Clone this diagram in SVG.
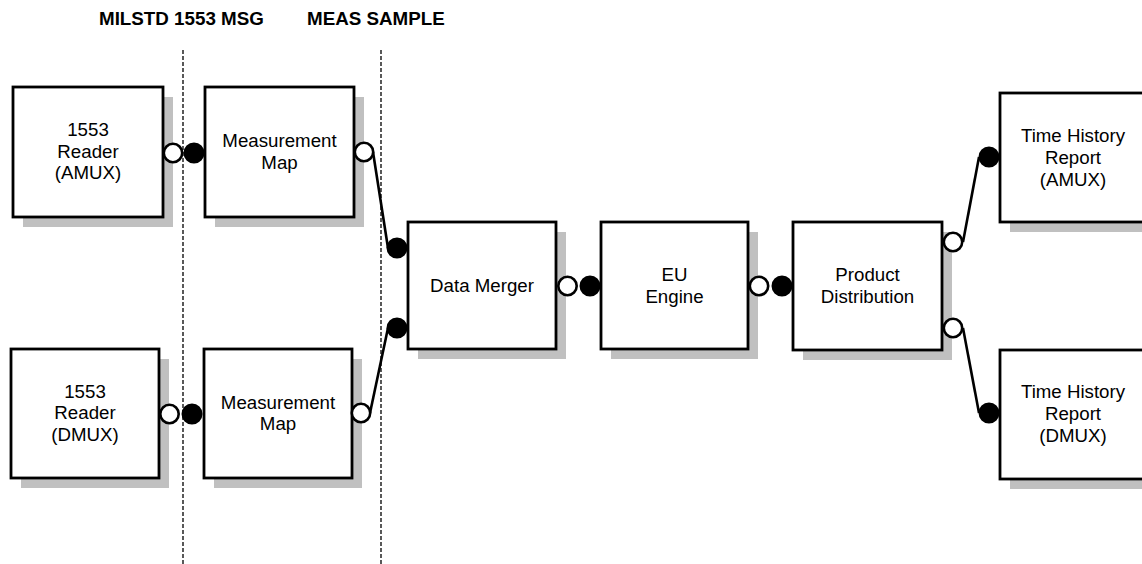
<svg xmlns="http://www.w3.org/2000/svg" width="1142" height="564" viewBox="0 0 1142 564">
  <style>
    .lane { stroke: #000; stroke-width: 1.3; stroke-dasharray: 4 2; fill: none; }
    .head { font-family: "Liberation Sans", Arial, sans-serif; font-size: 18.8px; font-weight: bold; fill: #000; }
    .shadow { fill: #c0c0c0; }
    .box { fill: #fff; stroke: #000; stroke-width: 2.8; }
    .label { font-family: "Liberation Sans", Arial, sans-serif; font-size: 18.7px; fill: #000; text-anchor: middle; }
    .wire { stroke: #000; stroke-width: 2.6; fill: none; }
    .out { fill: #fff; stroke: #000; stroke-width: 2.6; }
    .in { fill: #000; stroke: #000; stroke-width: 2.6; }
  </style>
  <rect width="1142" height="564" fill="#fff"/>

  <!-- swimlane headings and separators -->
  <g id="lanes">
    <text class="head" x="99" y="25">MILSTD 1553 MSG</text>
    <text class="head" x="307" y="25">MEAS SAMPLE</text>
    <line class="lane" x1="183" y1="50" x2="183" y2="564"/>
    <line class="lane" x1="381" y1="50" x2="381" y2="564"/>
  </g>

  <!-- links between ports -->
  <g id="connectors">
    <line class="wire" x1="373" y1="152" x2="388" y2="248"/>
    <line class="wire" x1="370" y1="413" x2="388" y2="328"/>
    <line class="wire" x1="963" y1="242" x2="979" y2="157"/>
    <line class="wire" x1="963" y1="328" x2="979" y2="413"/>
  </g>

  <g id="reader-amux">
    <rect class="shadow" x="23" y="97" width="150" height="130"/>
    <rect class="box" x="13" y="87" width="150" height="130"/>
    <text class="label" x="88" y="136">1553</text>
    <text class="label" x="88" y="157.5">Reader</text>
    <text class="label" x="88" y="179">(AMUX)</text>
    <circle class="out" cx="173" cy="153" r="9.2"/>
  </g>

  <g id="meas-map-amux">
    <rect class="shadow" x="215" y="97" width="149" height="130"/>
    <rect class="box" x="205" y="87" width="149" height="130"/>
    <text class="label" x="279.5" y="147">Measurement</text>
    <text class="label" x="279.5" y="168.5">Map</text>
    <circle class="in" cx="194" cy="153" r="9.2"/>
    <circle class="out" cx="364" cy="152" r="9.2"/>
  </g>

  <g id="reader-dmux">
    <rect class="shadow" x="21" y="359" width="148" height="129"/>
    <rect class="box" x="11" y="349" width="148" height="129"/>
    <text class="label" x="85" y="397.5">1553</text>
    <text class="label" x="85" y="419">Reader</text>
    <text class="label" x="85" y="440.5">(DMUX)</text>
    <circle class="out" cx="169.5" cy="414" r="9.2"/>
  </g>

  <g id="meas-map-dmux">
    <rect class="shadow" x="214" y="359" width="148" height="129"/>
    <rect class="box" x="204" y="349" width="148" height="129"/>
    <text class="label" x="278" y="408.5">Measurement</text>
    <text class="label" x="278" y="430">Map</text>
    <circle class="in" cx="192" cy="414" r="9.2"/>
    <circle class="out" cx="361" cy="413" r="9.2"/>
  </g>

  <g id="data-merger">
    <rect class="shadow" x="418" y="232" width="148" height="127"/>
    <rect class="box" x="408" y="222" width="148" height="127"/>
    <text class="label" x="482" y="292">Data Merger</text>
    <circle class="in" cx="397" cy="248" r="9.2"/>
    <circle class="in" cx="397" cy="328" r="9.2"/>
    <circle class="out" cx="567.5" cy="286" r="9.2"/>
  </g>

  <g id="eu-engine">
    <rect class="shadow" x="611" y="232" width="147" height="127"/>
    <rect class="box" x="601" y="222" width="147" height="127"/>
    <text class="label" x="674.5" y="281">EU</text>
    <text class="label" x="674.5" y="302.5">Engine</text>
    <circle class="in" cx="590" cy="286" r="9.2"/>
    <circle class="out" cx="759" cy="286" r="9.2"/>
  </g>

  <g id="product-distribution">
    <rect class="shadow" x="803" y="232" width="149" height="128"/>
    <rect class="box" x="793" y="222" width="149" height="128"/>
    <text class="label" x="867.5" y="281">Product</text>
    <text class="label" x="867.5" y="302.5">Distribution</text>
    <circle class="in" cx="782" cy="286" r="9.2"/>
    <circle class="out" cx="953" cy="242" r="9.2"/>
    <circle class="out" cx="953" cy="328" r="9.2"/>
  </g>

  <g id="time-history-amux">
    <rect class="shadow" x="1010" y="103" width="148" height="129"/>
    <rect class="box" x="1000" y="93" width="148" height="129"/>
    <text class="label" x="1073" y="142">Time History</text>
    <text class="label" x="1073" y="164">Report</text>
    <text class="label" x="1073" y="186">(AMUX)</text>
    <circle class="in" cx="989" cy="157" r="9.2"/>
  </g>

  <g id="time-history-dmux">
    <rect class="shadow" x="1010" y="360" width="148" height="129"/>
    <rect class="box" x="1000" y="350" width="148" height="129"/>
    <text class="label" x="1073" y="398">Time History</text>
    <text class="label" x="1073" y="420">Report</text>
    <text class="label" x="1073" y="442">(DMUX)</text>
    <circle class="in" cx="989" cy="413" r="9.2"/>
  </g>
</svg>
